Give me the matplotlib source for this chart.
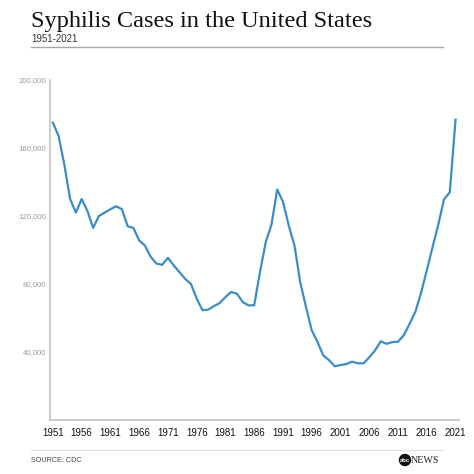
import matplotlib
matplotlib.use("Agg")
import matplotlib.pyplot as plt
from matplotlib.patches import Circle
from matplotlib.lines import Line2D

# valeurs (cas de syphilis, toutes phases)
years = list(range(1951, 2022))
cases = [
    174900, 167000, 150000, 130000, 122000, 130000, 123000, 113000, 120000, 122000,
    124000, 125700, 124000, 114000, 113000, 105600, 102600, 96000, 92000, 91300,
    95400, 91000, 87000, 83000, 80000, 71400, 64600, 64900, 67000, 68800,
    72300, 75300, 74300, 69400, 67400, 67500, 87000, 104500, 115000, 135600,
    128400, 114400, 102600, 81000, 66500, 52800, 45900, 38000, 35200, 31600,
    32300, 32900, 34300, 33400, 33300, 36900, 40900, 46300, 44800, 45800,
    46000, 49900, 56500, 63500, 74700, 88000, 101600, 115000, 129800, 133900,
    176700,
]
xtick_years = list(range(1951, 2022, 5))
ytick_vals = [40000, 80000, 120000, 160000, 200000]

W = H = 474
fig = plt.figure(figsize=(W / 100, H / 100), dpi=100)
fig.patch.set_facecolor("white")

def px(x, y):
    # pixels (depuis le haut) -> coordonnées figure
    return x / W, 1 - y / H

ax = fig.add_axes([50 / W, 1 - 420 / H, 409 / W, 340 / H])
ax.plot(years, cases, color="#3b8dc6", lw=1.6, solid_joinstyle="round")
ax.set_xlim(1950.5, 2021.6)
ax.set_ylim(0, 200000)

for s in ["top", "right"]:
    ax.spines[s].set_visible(False)
for s in ["left", "bottom"]:
    ax.spines[s].set_color("#c4c4c4")
    ax.spines[s].set_linewidth(1.2)

ax.set_xticks(xtick_years)
ax.set_xticklabels([str(y) for y in xtick_years], fontsize=7, color="#111",
                   family="Liberation Sans", fontweight="medium")
ax.set_yticks(ytick_vals)
ax.set_yticklabels([f"{v:,}" for v in ytick_vals], fontsize=5.6, color="#9a9a9a",
                   family="Liberation Sans")
ax.tick_params(axis="x", length=0, pad=6)
ax.tick_params(axis="y", length=0, pad=2.5)

# titre, ajusté à la largeur de la référence
title = fig.text(*px(31, 27), "Syphilis Cases in the United States",
                 family="Liberation Serif", fontsize=20, color="#111", va="baseline")
fig.canvas.draw()
r = fig.canvas.get_renderer()
w = title.get_window_extent(r).width
title.set_fontsize(20 * 341 / w)

fig.text(*px(31, 39), "1951-2021", family="Liberation Sans", fontsize=7,
         color="#333", va="center")
fig.add_artist(Line2D([31 / W, 443 / W], [1 - 47 / H] * 2, color="#a8a8a8", lw=1.0))

# pied de page
fig.add_artist(Line2D([31 / W, 443 / W], [1 - 450 / H] * 2, color="#dedede", lw=0.8))
fig.text(*px(31, 461), "SOURCE: CDC", family="Liberation Sans", fontsize=5.2,
         color="#444", va="center")
fig.add_artist(Circle(px(405, 460), 5.5 / W, color="#111", transform=fig.transFigure))
fig.text(*px(405, 460.5), "abc", family="Liberation Sans", fontsize=4.2, color="white",
         fontweight="bold", ha="center", va="center")
fig.text(*px(411, 460.5), "NEWS", family="Liberation Serif", fontsize=7.2,
         color="#222", va="center")

fig.savefig("out.png", dpi=100, facecolor="white")
